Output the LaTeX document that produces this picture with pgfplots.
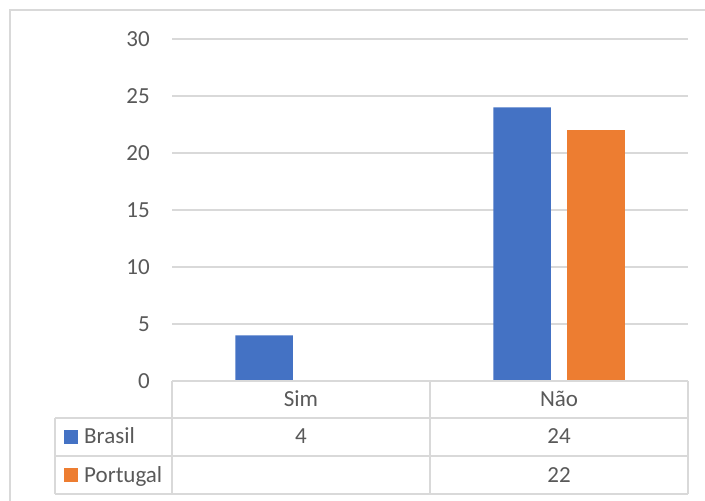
\documentclass[border=0pt]{standalone}
\usepackage{pgfplots}
\pgfplotsset{compat=1.18}
\usepackage{fontspec}
\setmainfont{Carlito}
\definecolor{txt}{HTML}{595959}
\definecolor{gridc}{HTML}{D9D9D9}
\definecolor{bra}{HTML}{4472C4}
\definecolor{por}{HTML}{ED7D31}
\begin{document}
\fontsize{23bp}{27bp}\selectfont
\begin{tikzpicture}[x=1bp,y=1bp]
\path[use as bounding box] (0,0) rectangle (705,501);
\draw[gridc, line width=1.5bp] (10,0) -- (10,491) -- (705,491);
\begin{axis}[
  at={(172bp,120bp)}, anchor=south west,
  scale only axis, width=516bp, height=342bp,
  xmin=0, xmax=2, ymin=0, ymax=30,
  ytick={0,5,...,30}, xtick=\empty,
  ymajorgrids, grid style={gridc, line width=1.3bp},
  axis line style={draw=none},
  major tick length=0pt,
  /pgf/number format/assume math mode=true,
  yticklabel style={font=\fontsize{23bp}{27bp}\selectfont, color=txt, anchor=east, inner sep=0pt, xshift=-22bp},
  clip=false,
]
\addplot[ybar, bar width=57.5bp, bar shift=-37bp, fill=bra, draw=none] coordinates {(0.5,4) (1.5,24)};
\addplot[ybar, bar width=57.5bp, bar shift=37bp, fill=por, draw=none] coordinates {(1.5,22)};
\end{axis}
% data table
\begin{scope}[gridc, line width=1.3bp]
\draw (172,120) -- (688,120);
\draw (55,83) -- (688,83);
\draw (55,45) -- (688,45);
\draw (55,7) -- (688,7);
\draw (172,120) -- (172,7);
\draw (430,120) -- (430,7);
\draw (688,120) -- (688,7);
\draw (55,83) -- (55,7);
\end{scope}
\begin{scope}[txt]
\node[anchor=base, inner sep=0pt] at (301,94.3) {Sim};
\node[anchor=base, inner sep=0pt] at (559,94.3) {Não};
\node[anchor=base, inner sep=0pt] at (301,57) {4};
\node[anchor=base, inner sep=0pt] at (559,57) {24};
\node[anchor=base, inner sep=0pt] at (559,18.5) {22};
\fill[bra] (64,57) rectangle (78,71);
\fill[por] (64,19) rectangle (78,33);
\node[anchor=base west, inner sep=0pt] at (84,57) {Brasil};
\node[anchor=base west, inner sep=0pt] at (84,18.5) {Portugal};
\end{scope}
\end{tikzpicture}
\end{document}
